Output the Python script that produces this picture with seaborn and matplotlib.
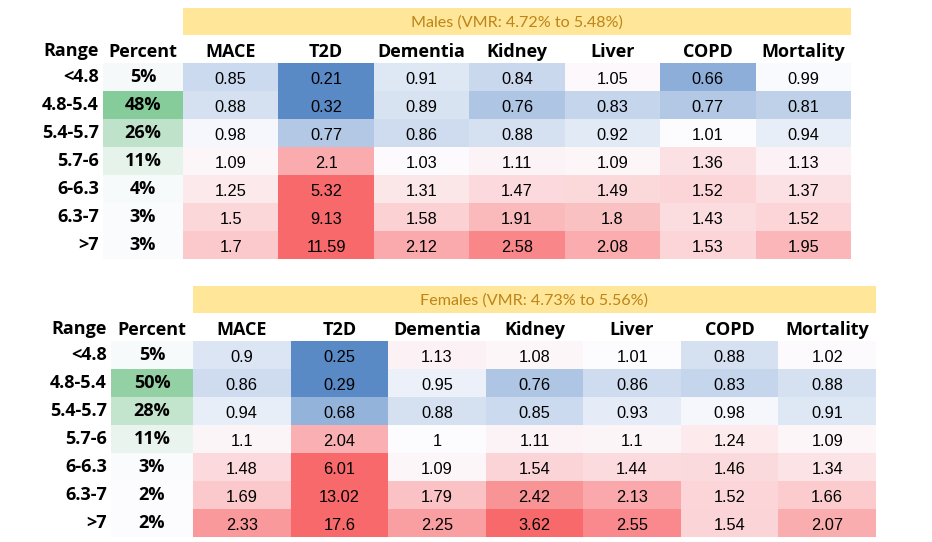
import numpy as np
import pandas as pd
import seaborn as sns
import matplotlib
matplotlib.use("Agg")
import matplotlib.pyplot as plt
from matplotlib.colors import LinearSegmentedColormap, TwoSlopeNorm

# ---------------- data ----------------
ranges = ["<4.8", "4.8-5.4", "5.4-5.7", "5.7-6", "6-6.3", "6.3-7", ">7"]
outcomes = ["MACE", "T2D", "Dementia", "Kidney", "Liver", "COPD", "Mortality"]

male_title = "Males (VMR: 4.72% to 5.48%)"
male_pct = [5, 48, 26, 11, 4, 3, 3]
male_mace = [0.85, 0.88, 0.98, 1.09, 1.25, 1.5, 1.7]
male_t2d = [0.21, 0.32, 0.77, 2.1, 5.32, 9.13, 11.59]
male_dementia = [0.91, 0.89, 0.86, 1.03, 1.31, 1.58, 2.12]
male_kidney = [0.84, 0.76, 0.88, 1.11, 1.47, 1.91, 2.58]
male_liver = [1.05, 0.83, 0.92, 1.09, 1.49, 1.8, 2.08]
male_copd = [0.66, 0.77, 1.01, 1.36, 1.52, 1.43, 1.53]
male_mortality = [0.99, 0.81, 0.94, 1.13, 1.37, 1.52, 1.95]

female_title = "Females (VMR: 4.73% to 5.56%)"
female_pct = [5, 50, 28, 11, 3, 2, 2]
female_mace = [0.9, 0.86, 0.94, 1.1, 1.48, 1.69, 2.33]
female_t2d = [0.25, 0.29, 0.68, 2.04, 6.01, 13.02, 17.6]
female_dementia = [1.13, 0.95, 0.88, 1, 1.09, 1.79, 2.25]
female_kidney = [1.08, 0.76, 0.85, 1.11, 1.54, 2.42, 3.62]
female_liver = [1.01, 0.86, 0.93, 1.1, 1.44, 2.13, 2.55]
female_copd = [0.88, 0.83, 0.98, 1.24, 1.46, 1.52, 1.54]
female_mortality = [1.02, 0.88, 0.91, 1.09, 1.34, 1.66, 2.07]

# ---------------- style ----------------
W, H = 932, 542
HEAD_FONT = "Open Sans"
VAL_FONT = "Liberation Sans"
TITLE_FONT = "Lato"
HEAD_SIZE = 13
VAL_SIZE = 11.8
rdbu = LinearSegmentedColormap.from_list("xl_bwr", ["#5A8AC6", "#FCFCFF", "#F8696B"])
grn = LinearSegmentedColormap.from_list("xl_grn", ["#FCFCFF", "#63BE7B"])

fig = plt.figure(figsize=(W / 100, H / 100), dpi=100)
fig.patch.set_facecolor("white")


def px_axes(x0, y0, x1, y1):
    return fig.add_axes([x0 / W, (H - y1) / H, (x1 - x0) / W, (y1 - y0) / H])


def panel(title, pct, cols, top, pct_x0, data_x0, data_x1, band_top, band_bot, pct_vmax):
    row_h = 28
    bottom = top + row_h * len(ranges)

    # title band
    axb = px_axes(data_x0, band_top, data_x1, band_bot)
    axb.set_facecolor("#FFE699")
    axb.set_xticks([]); axb.set_yticks([])
    for s in axb.spines.values():
        s.set_visible(False)
    axb.text(0.5, 0.45, title, ha="center", va="center", fontsize=11.6,
             family=TITLE_FONT, color="#BD8417", transform=axb.transAxes)

    # percent column
    axp = px_axes(pct_x0, top, data_x0, bottom)
    dfp = pd.DataFrame({"Percent": pct}, index=ranges)
    labels_p = np.array([[f"{p}%"] for p in pct])
    sns.heatmap(dfp, ax=axp, cmap=grn, vmin=2, vmax=pct_vmax, cbar=False,
                annot=labels_p, fmt="",
                annot_kws=dict(color="black", fontsize=HEAD_SIZE, fontweight="bold", family=HEAD_FONT))
    axp.xaxis.tick_top()
    axp.tick_params(length=0, pad=4)
    axp.set_xticklabels(["Percent"], fontsize=HEAD_SIZE, fontweight="bold", family=HEAD_FONT)
    axp.set_yticklabels(ranges, rotation=0, fontsize=HEAD_SIZE, fontweight="bold", family=HEAD_FONT)
    axp.tick_params(axis="y", pad=3)
    for t in axp.get_xticklabels():
        t.set_va("baseline")
    axp.set_xlabel(""); axp.set_ylabel("")
    axp.text(-4 / (data_x0 - pct_x0), 1 + 7 / (bottom - top), "Range", transform=axp.transAxes,
             ha="right", va="baseline", fontsize=HEAD_SIZE, fontweight="bold", family=HEAD_FONT)

    # data heatmap
    ax = px_axes(data_x0, top, data_x1, bottom)
    df = pd.DataFrame(dict(zip(outcomes, cols)), index=ranges)
    labels = np.vectorize(lambda v: f"{v:g}")(df.values)
    sns.heatmap(df, ax=ax, cmap=rdbu, norm=TwoSlopeNorm(vmin=0.5, vcenter=1.0, vmax=3.0),
                cbar=False, annot=labels, fmt="",
                annot_kws=dict(color="black", fontsize=VAL_SIZE, family=VAL_FONT))
    for t in ax.texts:
        x, y = t.get_position()
        t.set_position((x, y + 0.1))
    ax.xaxis.tick_top()
    ax.tick_params(length=0, pad=4)
    ax.set_xticklabels(outcomes, fontsize=HEAD_SIZE, fontweight="bold", family=HEAD_FONT)
    for t in ax.get_xticklabels():
        t.set_va("baseline")
    ax.set_yticks([])
    ax.set_xlabel(""); ax.set_ylabel("")


panel(male_title, male_pct,
      [male_mace, male_t2d, male_dementia, male_kidney, male_liver, male_copd, male_mortality],
      top=63, pct_x0=103, data_x0=183, data_x1=851, band_top=8, band_bot=35, pct_vmax=62)
panel(female_title, female_pct,
      [female_mace, female_t2d, female_dementia, female_kidney, female_liver, female_copd, female_mortality],
      top=341, pct_x0=111, data_x0=193, data_x1=876, band_top=286, band_bot=313, pct_vmax=72)

fig.savefig("out.png", dpi=100, facecolor="white")
